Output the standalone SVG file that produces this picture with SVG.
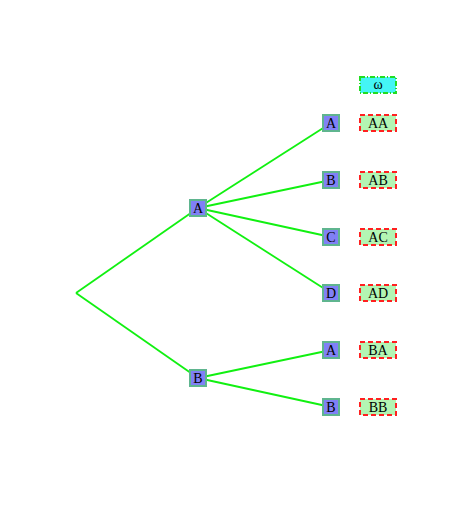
<svg xmlns="http://www.w3.org/2000/svg" width="472" height="510" viewBox="0 0 472 510">
<style>
.n rect{fill:#8080f6;stroke:#5fb58f;stroke-width:2}
.lab rect{fill:#b3f5b3;stroke:#ff2020;stroke-width:2;stroke-dasharray:5,3}
.om rect{fill:#44f5f5;stroke:#22dd22;stroke-width:2;stroke-dasharray:5,2,1,2}
text{font-family:"Liberation Serif",serif;font-size:14px;text-anchor:middle;fill:#000}
.e line{stroke:#11f011;stroke-width:1.8}
</style>
<rect width="472" height="510" fill="#fff"/>
<g id="edges" class="e">
<line x1="76" y1="293" x2="198" y2="208"/>
<line x1="76" y1="293" x2="198" y2="378"/>
<line x1="198" y1="208" x2="331" y2="123"/>
<line x1="198" y1="208" x2="331" y2="180"/>
<line x1="198" y1="208" x2="331" y2="237"/>
<line x1="198" y1="208" x2="331" y2="293"/>
<line x1="198" y1="378" x2="331" y2="350"/>
<line x1="198" y1="378" x2="331" y2="407"/>
</g>
<g id="nA" class="n"><rect x="190" y="200" width="16" height="16"/><text x="198" y="213">A</text></g>
<g id="nB" class="n"><rect x="190" y="370" width="16" height="16"/><text x="198" y="383">B</text></g>
<g id="nAA" class="n"><rect x="323" y="115" width="16" height="16"/><text x="331" y="128">A</text></g>
<g id="nAB" class="n"><rect x="323" y="172" width="16" height="16"/><text x="331" y="185">B</text></g>
<g id="nAC" class="n"><rect x="323" y="229" width="16" height="16"/><text x="331" y="242">C</text></g>
<g id="nAD" class="n"><rect x="323" y="285" width="16" height="16"/><text x="331" y="298">D</text></g>
<g id="nBA" class="n"><rect x="323" y="342" width="16" height="16"/><text x="331" y="355">A</text></g>
<g id="nBB" class="n"><rect x="323" y="399" width="16" height="16"/><text x="331" y="412">B</text></g>
<g id="omega" class="om"><rect x="360" y="77" width="36" height="16"/><text x="378" y="89">ω</text></g>
<g id="lAA" class="lab"><rect x="360" y="115" width="36" height="16"/><text x="378" y="128">AA</text></g>
<g id="lAB" class="lab"><rect x="360" y="172" width="36" height="16"/><text x="378" y="185">AB</text></g>
<g id="lAC" class="lab"><rect x="360" y="229" width="36" height="16"/><text x="378" y="242">AC</text></g>
<g id="lAD" class="lab"><rect x="360" y="285" width="36" height="16"/><text x="378" y="298">AD</text></g>
<g id="lBA" class="lab"><rect x="360" y="342" width="36" height="16"/><text x="378" y="355">BA</text></g>
<g id="lBB" class="lab"><rect x="360" y="399" width="36" height="16"/><text x="378" y="412">BB</text></g>
</svg>
